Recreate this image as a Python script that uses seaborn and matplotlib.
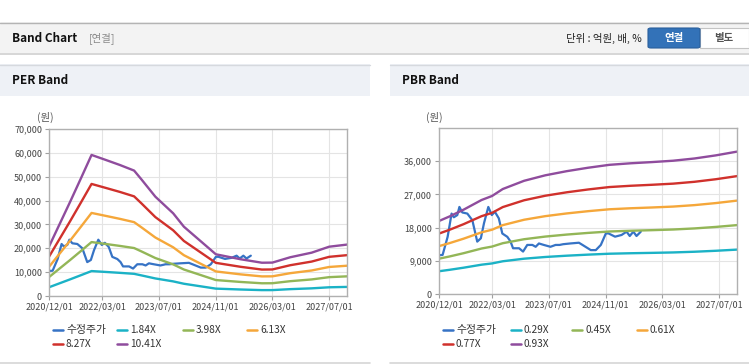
import numpy as np
import pandas as pd
import matplotlib
matplotlib.use("Agg")
import matplotlib.pyplot as plt
import seaborn as sns
from matplotlib.patches import Rectangle, FancyBboxPatch
from matplotlib.lines import Line2D
from matplotlib.ticker import FuncFormatter

# ---------------- data ----------------
price_label = "수정주가"
price_dates = ["2020-12-01", "2021-01-01", "2021-02-13", "2021-03-19", "2021-04-07",
               "2021-05-07", "2021-05-25", "2021-06-19", "2021-08-01", "2021-09-13",
               "2021-10-25", "2021-11-25", "2021-12-22", "2022-01-28", "2022-02-27",
               "2022-03-25", "2022-04-28", "2022-05-28", "2022-07-10", "2022-08-07",
               "2022-08-28", "2022-10-19", "2022-11-22", "2022-12-28", "2023-02-10",
               "2023-03-10", "2023-04-07", "2023-05-19", "2023-07-15", "2023-08-28",
               "2023-10-01", "2023-11-01", "2024-01-01", "2024-03-15", "2024-04-15",
               "2024-06-25", "2024-08-07", "2024-09-19", "2024-11-01", "2024-11-22",
               "2025-01-19", "2025-03-16", "2025-04-28", "2025-05-25", "2025-06-25",
               "2025-07-22", "2025-08-28"]
price_values = [10500, 10600, 15500, 21800, 20800,
                21400, 23600, 22100, 21800, 20000,
                14200, 15100, 19200, 23600, 21400,
                22300, 20500, 16400, 15500, 14200,
                12400, 12400, 11500, 13300, 13300,
                12800, 13700, 13300, 12800, 13300,
                13300, 13500, 13700, 13900, 13300,
                11900, 11900, 13300, 16400, 16450,
                15540, 16000, 16900, 15720, 16900,
                15720, 16900]

eps_dates = ["2020-12-01", "2021-06-01", "2021-09-01", "2021-12-01", "2022-04-01",
             "2022-08-01", "2022-12-01", "2023-02-01", "2023-06-01", "2023-11-01",
             "2024-02-01", "2024-06-01", "2024-11-01", "2025-06-01", "2025-12-01",
             "2026-03-01", "2026-08-01", "2027-02-01", "2027-07-01", "2027-12-01"]
eps_values = [1990, 3800, 4740, 5680, 5480,
              5275, 5050, 4700, 4000, 3330,
              2790, 2300, 1680, 1480, 1340,
              1345, 1560, 1745, 1985, 2070]

bps_dates = ["2020-12-01", "2021-03-01", "2021-07-01", "2021-12-01", "2022-03-01",
             "2022-06-01", "2022-12-01", "2023-06-01", "2023-12-01", "2024-06-01",
             "2024-12-01", "2025-06-01", "2025-12-01", "2026-06-01", "2026-12-01",
             "2027-06-01", "2027-12-01"]
bps_values = [21280, 22600, 24600, 27400, 28570,
              30600, 33000, 34600, 35800, 36800,
              37650, 38100, 38450, 38850, 39500,
              40400, 41500]

per_multiples = [1.84, 3.98, 6.13, 8.27, 10.41]
per_labels = ["1.84X", "3.98X", "6.13X", "8.27X", "10.41X"]
pbr_multiples = [0.29, 0.45, 0.61, 0.77, 0.93]
pbr_labels = ["0.29X", "0.45X", "0.61X", "0.77X", "0.93X"]

x_tick_dates = ["2020-12-01", "2022-03-01", "2023-07-01", "2024-11-01", "2026-03-01", "2027-07-01"]
x_tick_labels = ["2020/12/01", "2022/03/01", "2023/07/01", "2024/11/01", "2026/03/01", "2027/07/01"]
x_range = ["2020-12-01", "2027-12-01"]
per_yticks = [0, 10000, 20000, 30000, 40000, 50000, 60000, 70000]
per_ylim = [0, 70000]
pbr_yticks = [0, 9000, 18000, 27000, 36000]
pbr_ylim = [0, 45000]

# ---------------- style ----------------
sns.set_theme(style="white")
plt.rcParams["font.family"] = ["Noto Sans CJK KR", "DejaVu Sans"]

price_color = "#3673c5"
band_colors = ["#1bb2c6", "#93b657", "#f5a73a", "#d0312c", "#8f4c9d"]

W, H = 749, 364
fig = plt.figure(figsize=(W / 100, H / 100), dpi=100)
fig.patch.set_facecolor("white")


def rect(x0, y0, x1, y1, **kw):
    r = Rectangle((x0 / W, 1 - y1 / H), (x1 - x0) / W, (y1 - y0) / H,
                  transform=fig.transFigure, **kw)
    fig.add_artist(r)
    return r


def hline(x0, x1, y, color, lw=1.0, z=-4):
    fig.add_artist(Line2D([x0 / W, x1 / W], [1 - y / H, 1 - y / H], transform=fig.transFigure,
                          color=color, lw=lw, zorder=z))


def ftext(x, y, s, **kw):
    kw.setdefault("va", "center")
    fig.text(x / W, 1 - y / H, s, **kw)


# top bar
rect(0, 22, W, 53, facecolor="#f3f3f3", edgecolor="none", zorder=-5)
hline(0, W, 22.5, "#b4b4b4", 1.0)
hline(0, W, 53.5, "#d0d0d0", 1.2)
ftext(12, 38, "Band Chart", fontsize=8.5, fontweight="bold", color="#111111")
ftext(89, 38, "[연결]", fontsize=7.5, color="#8a8a8a")
ftext(642, 38, "단위 : 억원, 배, %", fontsize=7.5, color="#222222", ha="right")
btn = FancyBboxPatch((648 / W, 1 - 48 / H), 52 / W, 20 / H, boxstyle="round,pad=0,rounding_size=0.004",
                     transform=fig.transFigure, facecolor="#3372b8", edgecolor="#2a5f9c", lw=0.8, zorder=2)
fig.add_artist(btn)
ftext(674, 38, "연결", fontsize=7.5, fontweight="bold", color="white", ha="center", zorder=3)
rect(700, 28, 748.5, 48, facecolor="white", edgecolor="#c4c4c4", lw=0.8, zorder=1)
ftext(724, 38, "별도", fontsize=7.5, fontweight="bold", color="#555555", ha="center", zorder=3)

# panel headers
for (x0, x1, title) in [(0, 370, "PER Band"), (390, W, "PBR Band")]:
    rect(x0, 64, x1, 96, facecolor="#eef1f6", edgecolor="none", zorder=-5)
    hline(x0, x1, 64.5, "#d6d9de", 1.0)
    ftext(x0 + 12, 80, title, fontsize=8.5, fontweight="bold", color="#111111")
    hline(x0, x1, 362.5, "#d6d6d6", 1.2)

# ---------------- charts ----------------
x_lo, x_hi = pd.to_datetime(x_range[0]), pd.to_datetime(x_range[1])
price_df = pd.DataFrame({"date": pd.to_datetime(price_dates), "value": price_values})


def band_frame(dates, base, multiples, labels):
    rows = []
    for m, lab in zip(multiples, labels):
        rows.append(pd.DataFrame({"date": pd.to_datetime(dates),
                                  "value": np.array(base, dtype=float) * m,
                                  "series": lab}))
    return pd.concat(rows, ignore_index=True)


panels = [
    dict(rect=(49, 129, 347, 296), base_dates=eps_dates, base=eps_values, mult=per_multiples,
         labels=per_labels, ylim=per_ylim, yticks=per_yticks, unit_x=45,
         leg_x=[53, 117, 183, 247]),
    dict(rect=(439, 128, 737, 294), base_dates=bps_dates, base=bps_values, mult=pbr_multiples,
         labels=pbr_labels, ylim=pbr_ylim, yticks=pbr_yticks, unit_x=434,
         leg_x=[443, 511, 572, 637]),
]

for p in panels:
    x0, y0, x1, y1 = p["rect"]
    ax = fig.add_axes([x0 / W, 1 - y1 / H, (x1 - x0) / W, (y1 - y0) / H])
    ax.set_facecolor("white")
    sns.lineplot(data=price_df, x="date", y="value", color=price_color, lw=1.6, ax=ax, legend=False)
    bdf = band_frame(p["base_dates"], p["base"], p["mult"], p["labels"])
    sns.lineplot(data=bdf, x="date", y="value", hue="series", hue_order=p["labels"],
                 palette=band_colors, lw=1.7, ax=ax, legend=False)
    ax.set_xlim(x_lo, x_hi)
    ax.set_ylim(*p["ylim"])
    ax.set_yticks(p["yticks"])
    ax.yaxis.set_major_formatter(FuncFormatter(lambda v, pos: f"{int(v):,}"))
    ax.set_xticks(pd.to_datetime(x_tick_dates))
    ax.set_xticklabels(x_tick_labels)
    ax.set_xlabel("")
    ax.set_ylabel("")
    ax.grid(True, color="#e4e4e4", lw=0.8)
    ax.set_axisbelow(True)
    for s in ax.spines.values():
        s.set_color("#b0b0b0")
        s.set_linewidth(1.0)
    ax.tick_params(axis="both", which="major", bottom=True, left=True, length=3, width=0.8,
                   color="#a0a0a0", labelsize=6.5, labelcolor="#444444", pad=2)
    ftext(p["unit_x"], 117, "(원)", fontsize=7.5, color="#555555", ha="center")

    # legend
    entries = [(price_label, price_color)] + list(zip(p["labels"], band_colors))
    for i, (lab, col) in enumerate(entries):
        row, colidx = divmod(i, 4)
        lx = p["leg_x"][colidx]
        ly = 330 + row * 14
        fig.add_artist(Line2D([lx / W, (lx + 10) / W], [1 - ly / H, 1 - ly / H],
                              transform=fig.transFigure, color=col, lw=1.8, zorder=5))
        ftext(lx + 13, ly, lab, fontsize=7.3 if lab != price_label else 7.8, color="#333333")

fig.savefig("out.png", dpi=100)
